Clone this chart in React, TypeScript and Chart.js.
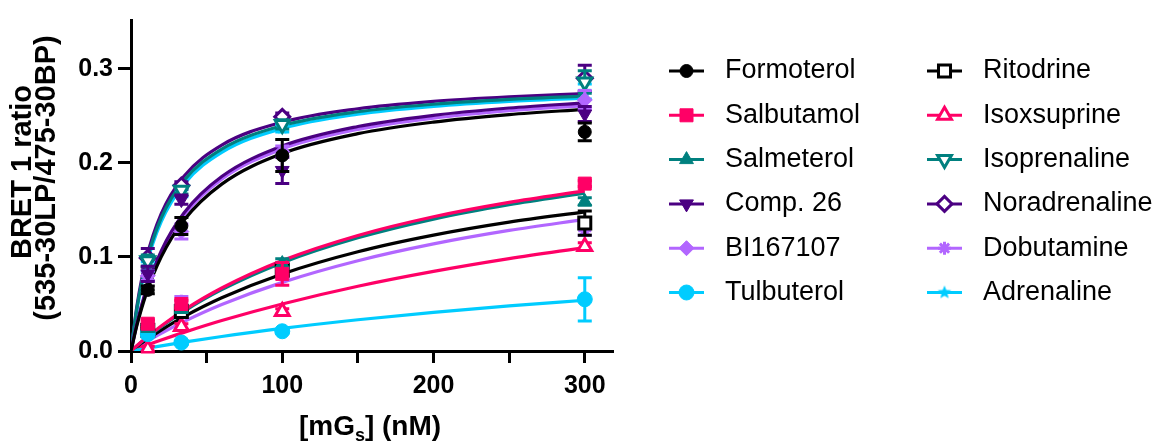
import React, { useEffect, useRef } from 'react';
import { Chart, registerables } from 'chart.js';
import { drawPoint } from 'chart.js/helpers';

Chart.register(...registerables);

// ---------- DATA ----------
const X_POINTS = [11.1, 33.3, 100, 300];
const CURVE_X = [0, 4, 10, 20, 35, 60, 100, 150, 200, 250, 300];
const X_TICKS = [0, 50, 100, 150, 200, 250, 300];
const X_TICK_LABELS = ['0', '', '100', '', '200', '', '300'];
const Y_TICKS = [0, 0.1, 0.2, 0.3];
const Y_TICK_LABELS = ['0.0', '0.1', '0.2', '0.3'];

const formoterolMean = [0.065, 0.133, 0.208, 0.233];
const formoterolSem = [0.004, 0.009, 0.017, 0.0095];
const formoterolCurve = [0, 0.0277, 0.0605, 0.1001, 0.1391, 0.1775, 0.21, 0.2311, 0.2434, 0.2514, 0.257];

const salbutamolMean = [0.029, 0.05, 0.082, 0.178];
const salbutamolSem = [0.004, 0.004, 0.012, 0.003];
const salbutamolCurve = [0, 0.0058, 0.014, 0.0266, 0.0435, 0.067, 0.0962, 0.1229, 0.1428, 0.1581, 0.1703];

const salmeterolMean = [0.024, 0.045, 0.093, 0.159];
const salmeterolSem = [0.003, 0.004, 0.005, 0.004];
const salmeterolCurve = [0, 0.0056, 0.0135, 0.0258, 0.0422, 0.0652, 0.0939, 0.1204, 0.1403, 0.1556, 0.1679];

const comp26Mean = [0.082, 0.161, 0.192, 0.252];
const comp26Sem = [0.008, 0.005, 0.014, 0.008];
const comp26Curve = [0, 0.0299, 0.065, 0.1065, 0.1467, 0.1855, 0.2179, 0.2387, 0.2506, 0.2584, 0.2639];

const bi167107Mean = [0.08, 0.127, 0.212, 0.267];
const bi167107Sem = [0.005, 0.008, 0.006, 0.01];
const bi167107Curve = [0, 0.0292, 0.0635, 0.1044, 0.1441, 0.1827, 0.2149, 0.2357, 0.2477, 0.2555, 0.261];

const tulbuterolMean = [0.018, 0.009, 0.021, 0.055];
const tulbuterolSem = [0.003, 0.002, 0.002, 0.023];
const tulbuterolCurve = [0, 0.0011, 0.0028, 0.0055, 0.0094, 0.0154, 0.024, 0.0332, 0.0411, 0.048, 0.054];

const ritodrineMean = [0.022, 0.042, 0.086, 0.136];
const ritodrineSem = [0.004, 0.004, 0.006, 0.013];
const ritodrineCurve = [0, 0.0048, 0.0117, 0.0223, 0.0366, 0.0567, 0.082, 0.1056, 0.1232, 0.137, 0.148];

const isoxsuprineMean = [0.002, 0.026, 0.042, 0.111];
const isoxsuprineSem = [0.003, 0.003, 0.003, 0.004];
const isoxsuprineCurve = [0, 0.0024, 0.006, 0.0117, 0.0198, 0.0324, 0.05, 0.0688, 0.0846, 0.0982, 0.11];

const isoprenalineMean = [0.096, 0.171, 0.241, 0.286];
const isoprenalineSem = [0.006, 0.004, 0.005, 0.012];
const isoprenalineCurve = [0, 0.0464, 0.0935, 0.1415, 0.1813, 0.2148, 0.2397, 0.2544, 0.2624, 0.2675, 0.271];

const noradrenalineMean = [0.099, 0.176, 0.249, 0.29];
const noradrenalineSem = [0.01, 0.004, 0.004, 0.014];
const noradrenalineCurve = [0, 0.0487, 0.0973, 0.146, 0.1858, 0.219, 0.2433, 0.2576, 0.2655, 0.2704, 0.2738];

const dobutamineMean = [0.021, 0.053, 0.087, 0.128];
const dobutamineSem = [0.003, 0.005, 0.006, 0.005];
const dobutamineCurve = [0, 0.004, 0.0098, 0.0189, 0.0313, 0.0494, 0.073, 0.096, 0.1139, 0.1282, 0.14];

const adrenalineMean = [0.09, 0.168, 0.237, 0.276];
const adrenalineSem = [0.005, 0.004, 0.004, 0.008];
const adrenalineCurve = [0, 0.0444, 0.0902, 0.1375, 0.1773, 0.2112, 0.2366, 0.2518, 0.2601, 0.2654, 0.269];

const NAMES = [
  'Formoterol', 'Salbutamol', 'Salmeterol', 'Comp. 26', 'BI167107', 'Tulbuterol',
  'Ritodrine', 'Isoxsuprine', 'Isoprenaline', 'Noradrenaline', 'Dobutamine', 'Adrenaline',
];
const MEANS = [formoterolMean, salbutamolMean, salmeterolMean, comp26Mean, bi167107Mean, tulbuterolMean,
  ritodrineMean, isoxsuprineMean, isoprenalineMean, noradrenalineMean, dobutamineMean, adrenalineMean];
const SEMS = [formoterolSem, salbutamolSem, salmeterolSem, comp26Sem, bi167107Sem, tulbuterolSem,
  ritodrineSem, isoxsuprineSem, isoprenalineSem, noradrenalineSem, dobutamineSem, adrenalineSem];
const CURVES = [formoterolCurve, salbutamolCurve, salmeterolCurve, comp26Curve, bi167107Curve, tulbuterolCurve,
  ritodrineCurve, isoxsuprineCurve, isoprenalineCurve, noradrenalineCurve, dobutamineCurve, adrenalineCurve];

// ---------- STYLES ----------
const BLACK = '#000000';
const PINK = '#FF0066';
const TEAL = '#00807F';
const INDIGO = '#4B0082';
const LILAC = '#B266FF';
const CYAN = '#00CCFF';

type Sty = { color: string; shape: string; r: number; open: boolean; rot: number };
const STYLES: Sty[] = [
  { color: BLACK, shape: 'circle', r: 6.5, open: false, rot: 0 },
  { color: PINK, shape: 'rect', r: 9.2, open: false, rot: 0 },
  { color: TEAL, shape: 'triangle', r: 8, open: false, rot: 0 },
  { color: INDIGO, shape: 'triangle', r: 8, open: false, rot: 180 },
  { color: LILAC, shape: 'rectRot', r: 7.5, open: false, rot: 0 },
  { color: CYAN, shape: 'circle', r: 7.5, open: false, rot: 0 },
  { color: BLACK, shape: 'rect', r: 8.5, open: true, rot: 0 },
  { color: PINK, shape: 'triangle', r: 8, open: true, rot: 0 },
  { color: TEAL, shape: 'triangle', r: 8, open: true, rot: 180 },
  { color: INDIGO, shape: 'rectRot', r: 7.5, open: true, rot: 0 },
  { color: LILAC, shape: 'star', r: 6.5, open: false, rot: 0 },
  { color: CYAN, shape: 'star5', r: 7, open: false, rot: 0 },
];

const FONT = '"Liberation Sans", Arial, Helvetica, sans-serif';

function makeStar5(color: string, r: number): HTMLCanvasElement {
  const s = Math.ceil(r * 2 + 2);
  const c = document.createElement('canvas');
  c.width = s;
  c.height = s;
  const g = c.getContext('2d')!;
  g.fillStyle = color;
  g.beginPath();
  for (let i = 0; i < 10; i++) {
    const a = -Math.PI / 2 + (i * Math.PI) / 5;
    const rr = i % 2 === 0 ? r : r * 0.45;
    g.lineTo(s / 2 + rr * Math.cos(a), s / 2 + rr * Math.sin(a));
  }
  g.closePath();
  g.fill();
  return c;
}

const errorBarPlugin = {
  id: 'errorBars',
  beforeDatasetDraw(chart: any, args: any) {
    const ds = chart.data.datasets[args.index];
    if (!ds.errors) return;
    const { ctx } = chart;
    const xs = chart.scales.x;
    const ys = chart.scales.y;
    ctx.save();
    ctx.strokeStyle = ds.errColor;
    ctx.lineWidth = 3;
    ds.data.forEach((p: any, i: number) => {
      const e = ds.errors[i];
      if (!e) return;
      const px = xs.getPixelForValue(p.x);
      const yt = ys.getPixelForValue(p.y + e);
      const yb = ys.getPixelForValue(p.y - e);
      ctx.beginPath();
      ctx.moveTo(px, yt);
      ctx.lineTo(px, yb);
      ctx.moveTo(px - 7, yt);
      ctx.lineTo(px + 7, yt);
      ctx.moveTo(px - 7, yb);
      ctx.lineTo(px + 7, yb);
      ctx.stroke();
    });
    ctx.restore();
  },
};

function makeTextPlugin(star5: HTMLCanvasElement) {
  return {
    id: 'textAndLegend',
    afterDraw(chart: any) {
      const ctx: CanvasRenderingContext2D = chart.ctx;
      ctx.save();
      // Y title
      ctx.fillStyle = '#000';
      ctx.font = `bold 29px ${FONT}`;
      ctx.textAlign = 'center';
      ctx.textBaseline = 'middle';
      ctx.save();
      ctx.translate(23, 172);
      ctx.rotate(-Math.PI / 2);
      ctx.fillText('BRET 1 ratio', 0, 0);
      ctx.restore();
      ctx.save();
      ctx.translate(47, 178);
      ctx.rotate(-Math.PI / 2);
      ctx.fillText('(535-30LP/475-30BP)', 0, 0);
      ctx.restore();

      // X title with subscript
      const big = `bold 28px ${FONT}`;
      const small = `bold 18px ${FONT}`;
      ctx.textAlign = 'left';
      ctx.textBaseline = 'alphabetic';
      ctx.font = big;
      const a = '[mG';
      const b = '] (nM)';
      const wa = ctx.measureText(a).width;
      const wb = ctx.measureText(b).width;
      ctx.font = small;
      const ws = ctx.measureText('s').width;
      const total = wa + ws + wb;
      let x0 = 370 - total / 2;
      const base = 435;
      ctx.font = big;
      ctx.fillText(a, x0, base);
      x0 += wa;
      ctx.font = small;
      ctx.fillText('s', x0, base + 6);
      x0 += ws;
      ctx.font = big;
      ctx.fillText(b, x0, base);

      // Legend (two columns)
      ctx.font = `27px ${FONT}`;
      ctx.textBaseline = 'middle';
      NAMES.forEach((name, i) => {
        const col = Math.floor(i / 6);
        const row = i % 6;
        const lx = col === 0 ? 669 : 927;
        const y = 71 + row * 44.3;
        const st = STYLES[i];
        ctx.strokeStyle = st.color;
        ctx.lineWidth = 3;
        ctx.beginPath();
        ctx.moveTo(lx, y);
        ctx.lineTo(lx + 35, y);
        ctx.stroke();
        ctx.fillStyle = st.open ? '#ffffff' : st.color;
        ctx.strokeStyle = st.color;
        ctx.lineWidth = st.open ? 3 : (st.shape === 'star' ? 3 : 1);
        drawPoint(ctx, {
          pointStyle: st.shape === 'star5' ? star5 : st.shape,
          radius: st.r,
          rotation: st.rot,
          borderWidth: ctx.lineWidth,
        } as any, lx + 17.5, y);
        ctx.fillStyle = '#000';
        ctx.textAlign = 'left';
        ctx.fillText(name, col === 0 ? 725 : 983, y);
      });
      ctx.restore();
    },
  };
}

export default function App() {
  const ref = useRef<HTMLCanvasElement | null>(null);
  useEffect(() => {
    if (!ref.current) return;
    const star5 = makeStar5(CYAN, 7);
    const datasets: any[] = [];
    NAMES.forEach((name, i) => {
      const st = STYLES[i];
      datasets.push({
        type: 'line',
        label: name + ' fit',
        data: CURVE_X.map((x, k) => ({ x, y: CURVES[i][k] })),
        borderColor: st.color,
        borderWidth: 3.2,
        pointRadius: 0,
        fill: false,
        cubicInterpolationMode: 'monotone',
        order: 1,
      });
    });
    NAMES.forEach((name, i) => {
      const st = STYLES[i];
      datasets.push({
        type: 'line',
        label: name,
        data: X_POINTS.map((x, k) => ({ x, y: MEANS[i][k] })),
        errors: SEMS[i],
        errColor: st.color,
        showLine: false,
        borderColor: st.color,
        backgroundColor: st.open ? '#ffffff' : st.color,
        pointStyle: st.shape === 'star5' ? star5 : st.shape,
        pointRadius: st.r,
        pointRotation: st.rot,
        pointBackgroundColor: st.open ? '#ffffff' : st.color,
        pointBorderColor: st.color,
        pointBorderWidth: st.open || st.shape === 'star' ? 3 : 1,
        order: 0,
      });
    });

    const tickFont = { family: FONT, size: 25, weight: 'bold' as const };
    const chart = new Chart(ref.current, {
      type: 'line',
      data: { datasets },
      plugins: [errorBarPlugin, makeTextPlugin(star5)],
      options: {
        animation: false,
        responsive: false,
        events: [],
        layout: { padding: { left: 0, top: 16, right: 546, bottom: 0 } },
        plugins: { legend: { display: false }, tooltip: { enabled: false } },
        scales: {
          x: {
            type: 'linear',
            min: 0,
            max: 318,
            afterBuildTicks: (s: any) => { s.ticks = X_TICKS.map((v) => ({ value: v })); },
            afterFit: (s: any) => { s.height = 91; },
            ticks: {
              autoSkip: false,
              maxRotation: 0,
              padding: 8,
              color: '#000',
              font: tickFont,
              callback: (v: any) => X_TICK_LABELS[X_TICKS.indexOf(Number(v))] ?? '',
            },
            grid: { display: true, drawOnChartArea: false, drawTicks: true, tickLength: 12, color: '#000', lineWidth: 3 },
            border: { display: true, color: '#000', width: 3 },
          },
          y: {
            type: 'linear',
            min: 0,
            max: 0.352,
            afterBuildTicks: (s: any) => { s.ticks = Y_TICKS.map((v) => ({ value: v })); },
            afterFit: (s: any) => { s.width = 131; },
            ticks: {
              autoSkip: false,
              padding: 5,
              color: '#000',
              font: tickFont,
              callback: (v: any) => Y_TICK_LABELS[Y_TICKS.indexOf(Number(v))] ?? '',
            },
            grid: { display: true, drawOnChartArea: false, drawTicks: true, tickLength: 13, color: '#000', lineWidth: 3 },
            border: { display: true, color: '#000', width: 3 },
          },
        },
      } as any,
    });
    return () => chart.destroy();
  }, []);
  return (
    <div style={{ position: 'absolute', left: 0, top: 0, width: 1158, height: 442, background: '#fff' }}>
      <canvas ref={ref} width={1158} height={442} style={{ display: 'block' }} />
    </div>
  );
}
